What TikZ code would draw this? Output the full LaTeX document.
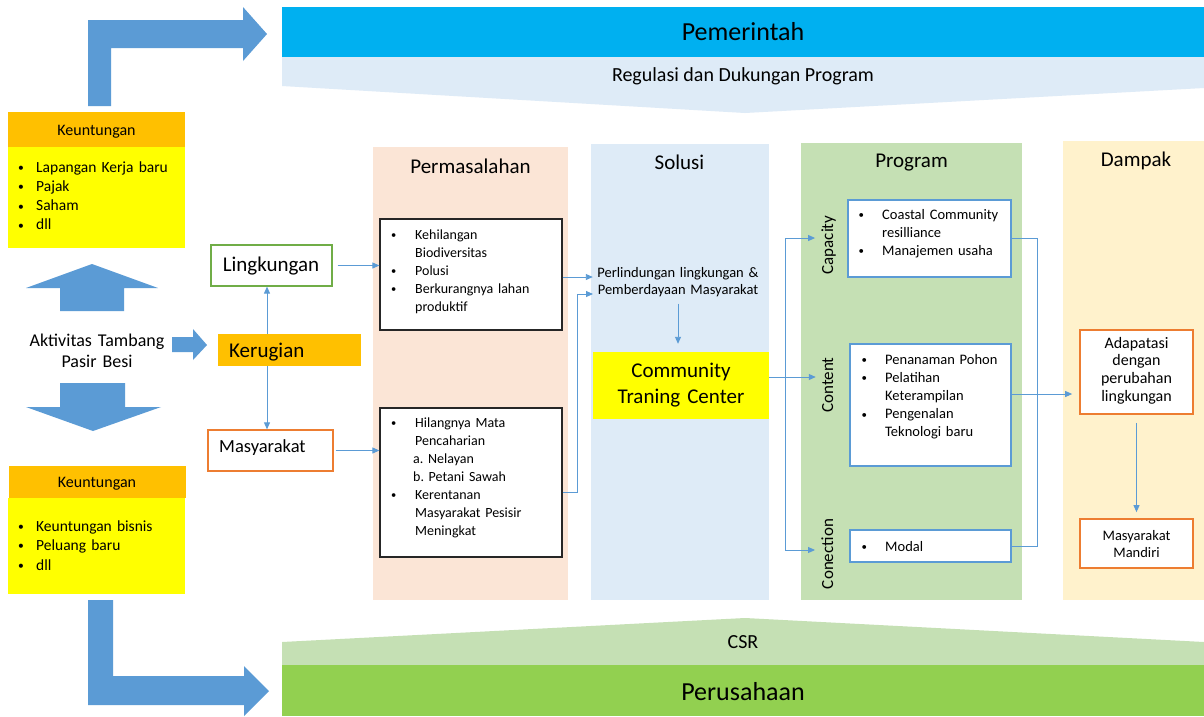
\documentclass[tikz,border=0pt]{standalone}
\usepackage{fontspec}
\setmainfont{Carlito}
\usetikzlibrary{arrows.meta,calc,fit}
\frenchspacing

\definecolor{arrowblue}{HTML}{5B9BD5}
\definecolor{govblue}{HTML}{00B0F0}
\definecolor{paleblue}{HTML}{DEEBF7}
\definecolor{paleorange}{HTML}{FBE5D6}
\definecolor{palegreen}{HTML}{C5E0B4}
\definecolor{paleyellow}{HTML}{FFF2CC}
\definecolor{compgreen}{HTML}{92D050}
\definecolor{gold}{HTML}{FFC000}
\definecolor{brightyellow}{HTML}{FFFF00}
\definecolor{leafgreen}{HTML}{70AD47}
\definecolor{deeporange}{HTML}{ED7D31}

\newcommand\fsz[2]{\fontsize{#1}{#2}\selectfont}
\newcommand\bul[1]{\makebox[#1pt][l]{\hspace*{1pt}\raisebox{0.6pt}{\scalebox{0.75}{\textbullet}}}}
\newcommand\ind[1]{\hspace*{#1pt}}

\tikzset{
  blockarrow/.style={fill=arrowblue},
  conn/.style={draw=arrowblue, line width=0.9pt, -{Triangle[length=7pt,width=6pt]}},
  wire/.style={draw=arrowblue, line width=0.9pt},
  area/.style={inner sep=0pt, draw=none},
  txt/.style={inner sep=0pt, text=black},
  listtxt/.style={txt, anchor=base west, align=left, text width=#1},
  heading/.style={txt, anchor=base, font=\fsz{21}{25}},
  blackbox/.style={inner sep=0pt, draw=black!85, line width=1.3pt, fill=white},
  bluebox/.style={inner sep=0pt, draw=arrowblue, line width=1.6pt, fill=white},
  orangebox/.style={inner sep=0pt, draw=deeporange, line width=1.5pt, fill=white},
}

\begin{document}
\begin{tikzpicture}[x=1pt,y=-1pt]
\useasboundingbox (0,0) rectangle (1204,716);
\fill[white] (0,0) rectangle (1204,716);

% ---------- government banner ----------
\fill[paleblue] (282,57) -- (1204,57) -- (1204,88) -- (745,113) -- (282,86) -- cycle;
\node[area, fill=govblue, fit={(282,7)(1204,57)}] (gov) {};
\node[txt, anchor=base, font=\fsz{26}{30}] (govt) at (743,40) {Pemerintah};
\node[txt, anchor=base, font=\fsz{20}{24}] (reg) at (743,81) {Regulasi dan Dukungan Program};

% ---------- company banner ----------
\fill[palegreen] (282,642) -- (745,618) -- (1204,642) -- (1204,665) -- (282,665) -- cycle;
\node[area, fill=compgreen, fit={(282,665)(1204,716)}] (comp) {};
\node[txt, anchor=base, font=\fsz{20}{24}] (csr) at (743,648) {CSR};
\node[txt, anchor=base, font=\fsz{26}{30}] (compt) at (743,700) {Perusahaan};

% ---------- bent block arrows ----------
\fill[blockarrow] (88,106) -- (88,20) -- (243,20) -- (243,7) -- (267,34)
  -- (243,61) -- (243,48) -- (111,48) -- (111,106) -- cycle;
\fill[blockarrow] (88,600) -- (113,600) -- (113,676) -- (244,676) -- (244,666)
  -- (269,691) -- (244,716) -- (244,705) -- (88,705) -- cycle;

% ---------- benefit boxes ----------
\node[area, fill=gold, fit={(8,112)(185,147)}] (k1h) {};
\node[area, fill=brightyellow, fit={(8,147)(185,248)}] (k1b) {};
\node[txt, anchor=base, font=\fsz{16}{19}] (k1ht) at (96.5,135) {Keuntungan};
\node[listtxt=165pt, font=\fsz{15.5}{19.3}] (k1bt) at (17,172)
  {\bul{19}Lapangan Kerja baru\\ \bul{19}Pajak\\ \bul{19}Saham\\ \bul{19}dll};

\node[area, fill=gold, fit={(9,466)(186,498)}] (k2h) {};
\node[area, fill=brightyellow, fit={(8,498)(185,594)}] (k2b) {};
\node[txt, anchor=base, font=\fsz{16}{19}] (k2ht) at (97,487) {Keuntungan};
\node[listtxt=165pt, font=\fsz{15.5}{19.5}] (k2bt) at (17,531)
  {\bul{19}Keuntungan bisnis\\ \bul{19}Peluang baru\\ \bul{19}dll};

% ---------- mining activity and its block arrows ----------
\fill[blockarrow] (60,311) -- (60,288) -- (26,288) -- (92,264) -- (158,288)
  -- (124,288) -- (124,311) -- cycle;
\fill[blockarrow] (60,383) -- (125,383) -- (125,407) -- (161,407) -- (93,431)
  -- (26,407) -- (60,407) -- cycle;
\node[txt, anchor=base, align=center, text width=160pt, font=\fsz{18}{21}] (akt) at (97,346)
  {Aktivitas Tambang\\Pasir Besi};
\fill[blockarrow] (172,337) -- (193,337) -- (193,329) -- (207,345) -- (193,360)
  -- (193,352) -- (172,352) -- cycle;

% ---------- losses ----------
\node[area, fill=gold, fit={(218,334)(361,366)}] (kerug) {};
\node[txt, anchor=base west, font=\fsz{21}{25}] (kerugt) at (229,357) {Kerugian};
\node[inner sep=0pt, draw=leafgreen, line width=1.2pt, fill=white, fit={(211,245)(332,286)}] (ling) {};
\node[txt, anchor=base, font=\fsz{21}{25}] (lingt) at (271,271) {Lingkungan};
\node[orangebox, line width=1.3pt, fit={(208,430)(333,471)}] (masy) {};
\node[txt, anchor=base west, font=\fsz{18.5}{22}] (masyt) at (219,452) {Masyarakat};

\coordinate (kx) at (267,350);
\draw[conn] (kx |- kerug.north) -- (kx |- ling.south);
\draw[conn] (kx |- kerug.south) -- (kx |- masy.north);

% ---------- column backgrounds ----------
\node[area, fill=paleorange, fit={(373,147)(568,600)}] (colperm) {};
\node[area, fill=paleblue, fit={(591,144)(769,600)}] (colsol) {};
\node[area, fill=palegreen, fit={(801,143)(1022,600)}] (colprog) {};
\node[area, fill=paleyellow, fit={(1063,141)(1204,600)}] (coldamp) {};

\node[heading] (hperm) at (470.5,173) {Permasalahan};
\node[heading] (hsol) at (679.5,169) {Solusi};
\node[heading] (hprog) at (911.5,167) {Program};
\node[heading] (hdamp) at (1136,166) {Dampak};

% ---------- problems ----------
\node[blackbox, fit={(380,219)(562,330)}] (p1) {};
\node[listtxt=175pt, font=\fsz{14}{18}] (p1t) at (390,239)
  {\bul{25}Kehilangan\\ \ind{25}Biodiversitas\\ \bul{25}Polusi\\
   \bul{25}Berkurangnya lahan\\ \ind{25}produktif};
\node[blackbox, fit={(380,408)(562,557)}] (p2) {};
\node[listtxt=175pt, font=\fsz{14}{18}] (p2t) at (390,427)
  {\bul{25}Hilangnya Mata\\ \ind{25}Pencaharian\\ \ind{23}a. Nelayan\\
   \ind{23}b. Petani Sawah\\ \bul{25}Kerentanan\\ \ind{25}Masyarakat Pesisir\\
   \ind{25}Meningkat};

\draw[conn, shorten <=5pt] (ling.east) -- (ling.east -| p1.west);
\draw[conn, shorten <=2pt] (masy.east) -- (masy.east -| p2.west);

% ---------- solution ----------
\node[txt, anchor=base, align=center, text width=170pt, font=\fsz{14.5}{17}] (sol) at (678,277)
  {Perlindungan lingkungan \&\\Pemberdayaan Masyarakat};
\node[area, fill=brightyellow, fit={(593,352)(769,419)}] (ctc) {};
\node[txt, anchor=base, align=center, text width=176pt, font=\fsz{21}{26}] (ctct) at (681,377)
  {Community\\Traning Center};

\coordinate (a1) at ($(p1.east)+(0,2.5)$);
\draw[conn] (a1) -- (a1 -| sol.west);
\coordinate (a2) at ($(p2.east)+(0,9.5)$);
\path (593,294) coordinate (s2);
\draw[conn] (a2) -- ++(15,0) |- (s2);
\draw[conn, shorten <=7pt, shorten >=8pt] (sol.south) -- (sol.south |- ctc.north);

% ---------- programme ----------
\node[txt, anchor=base, rotate=90, font=\fsz{17}{20}] (capl) at (833,245) {Capacity};
\node[txt, anchor=base, rotate=90, font=\fsz{17}{20}] (contl) at (833,385) {Content};
\node[txt, anchor=base, rotate=90, font=\fsz{17}{20}] (conl) at (833,554) {Conection};

\node[bluebox, fit={(848,200)(1011,277)}] (cap) {};
\node[listtxt=160pt, font=\fsz{14.5}{18}] (capt) at (857.5,219)
  {\bul{24.5}Coastal Community\\ \ind{24.5}resilliance\\ \bul{24.5}Manajemen usaha};
\node[bluebox, fit={(850,344)(1011,466)}] (cont) {};
\node[listtxt=160pt, font=\fsz{14.5}{18.2}] (contt) at (860.5,364)
  {\bul{24.5}Penanaman Pohon\\ \bul{24.5}Pelatihan\\ \ind{24.5}Keterampilan\\
   \bul{24.5}Pengenalan\\ \ind{24.5}Teknologi baru};
\node[bluebox, fit={(850,530)(1011,562)}] (modal) {};
\node[listtxt=160pt, font=\fsz{14.5}{18}] (modalt) at (860.5,551) {\bul{24.5}Modal};

\coordinate (c1) at ($(ctc.east)+(0,-8.5)$);
\draw[conn, shorten >=6pt] (c1) -- (c1 -| contl.north);
\coordinate (tr1) at (785,238);
\coordinate (tr2) at (785,550);
\draw[conn, shorten >=6pt] (tr2) -- (tr1) -- (tr1 -| capl.north);
\draw[conn, shorten >=6pt] (tr2) -- (tr2 -| conl.north);

\coordinate (rt) at (1037,238);
\draw[wire] (cap.east) -- (cap.east -| rt) |- (modal.east);

% ---------- impact ----------
\node[orangebox, line width=1.7pt, fit={(1080,330)(1193,414)}] (adapt) {};
\node[txt, anchor=base, align=center, text width=110pt, font=\fsz{16}{17.7}] (adaptt) at (1136.5,348)
  {Adapatasi\\dengan\\perubahan\\lingkungan};
\node[orangebox, line width=1.7pt, fit={(1080,519)(1193,568)}] (mandiri) {};
\node[txt, anchor=base, align=center, text width=110pt, font=\fsz{14.5}{17}] (mandirit) at (1136.5,540)
  {Masyarakat\\Mandiri};

\coordinate (c2) at ($(cont.east)+(0,-11)$);
\draw[conn, shorten >=7pt] (c2) -- (c2 -| adapt.west);
\draw[conn, shorten <=8pt, shorten >=6pt] (adapt.south) -- (mandiri.north);

\end{tikzpicture}
\end{document}
